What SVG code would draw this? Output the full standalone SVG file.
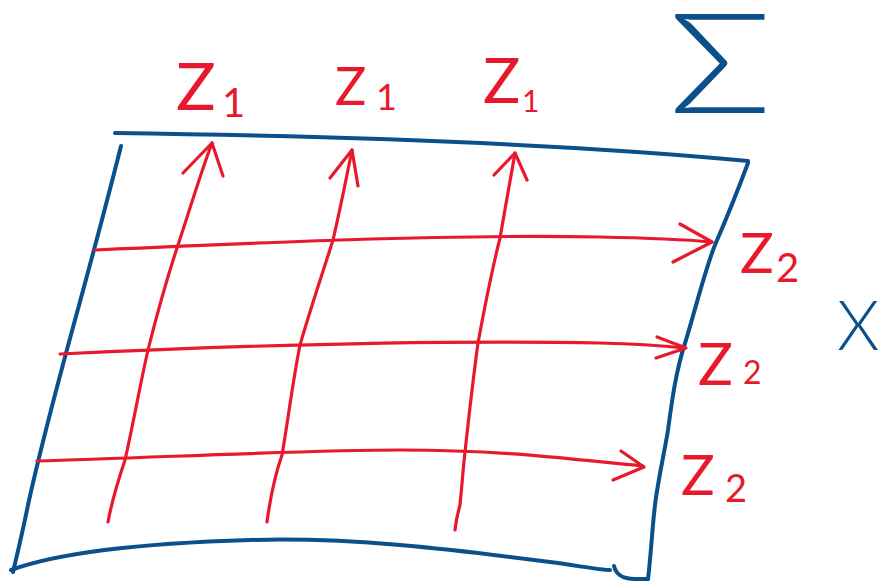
<svg xmlns="http://www.w3.org/2000/svg" width="882" height="583" viewBox="0 0 882 583">
  <style>
    .blue-line { fill: none; stroke: #0b4f8b; stroke-width: 4; stroke-linecap: round; stroke-linejoin: round; }
    .red-line { fill: none; stroke: #e8192c; stroke-width: 3.2; stroke-linecap: round; stroke-linejoin: round; }
    .lbl { font-family: "Lato", "Liberation Sans", sans-serif; }
    .red { fill: #e8192c; }
    .blue { fill: #0b4f8b; }
  </style>
  <rect width="882" height="583" fill="#ffffff"/>

  <!-- Surface outline -->
  <g id="surface">
    <path class="blue-line" d="M115,133 C 330,136 560,143 748,161"/>
    <path class="blue-line" d="M121,146 C 105,210 90,265 75,320 C 60,375 40,450 28,505 C 22,535 17,555 13,572"/>
    <path class="blue-line" d="M11,570 C 60,552 150,543 250,540 C 350,537 450,549 550,562 C 580,566 600,570 610,570"/>
    <path class="blue-line" d="M614,566 C 616,574 621,579 635,579 L 648,579"/>
    <path class="blue-line" d="M748,163 C 738,190 728,215 715,245 C 705,270 698,300 686,340 C 676,370 672,400 668,430 C 664,455 658,480 655,505 C 652,530 651,555 648,579"/>
  </g>

  <!-- Connectors -->
  <g id="connectors">
    <g id="arrow-v1">
      <path class="red-line" d="M108,522 C 112,500 120,475 125,460 C 133,425 140,385 148,350 C 158,310 168,275 178,245 C 188,215 200,175 212,143"/>
      <path class="red-line" d="M183,173 L212,143 L223,176"/>
    </g>
    <g id="arrow-v2">
      <path class="red-line" d="M267,522 C 270,500 275,475 282,455 C 288,420 293,380 300,345 C 310,310 322,275 333,240 C 340,210 346,180 352,150"/>
      <path class="red-line" d="M330,178 L352,150 L358,186"/>
    </g>
    <g id="arrow-v3">
      <path class="red-line" d="M455,530 C 456,520 458,512 460,505 C 462,485 463,470 465,452 C 469,415 473,380 478,343 C 485,305 492,270 500,238 C 505,210 510,180 515,153"/>
      <path class="red-line" d="M494,175 L515,153 L527,180"/>
    </g>
    <g id="arrow-h1">
      <path class="red-line" d="M95,250 C 250,243 450,234 600,237 C 650,238 690,240 712,242"/>
      <path class="red-line" d="M680,224 L712,242 L673,262"/>
    </g>
    <g id="arrow-h2">
      <path class="red-line" d="M60,354 C 250,345 450,340 600,343 C 640,344 665,346 685,348"/>
      <path class="red-line" d="M657,337 L686,348 L656,358"/>
    </g>
    <g id="arrow-h3">
      <path class="red-line" d="M37,461 C 150,458 300,450 400,450 C 500,450 560,458 643,466"/>
      <path class="red-line" d="M621,451 L644,467 L613,480"/>
    </g>
  </g>

  <!-- Labels -->
  <g id="label-sigma">
    <text class="lbl blue" transform="translate(669,113) scale(1.22,1)" x="0" y="0" font-size="140" font-weight="300">Σ</text>
  </g>
  <g id="label-x">
    <text class="lbl blue" x="837" y="350" font-size="68" font-weight="300">X</text>
  </g>
  <g id="label-z1-a">
    <text class="lbl red" x="176" y="110" font-size="66">Z<tspan x="222" y="117" font-size="40">1</tspan></text>
  </g>
  <g id="label-z1-b">
    <text class="lbl red" x="335" y="105" font-size="52">Z<tspan x="376" y="110" font-size="36">1</tspan></text>
  </g>
  <g id="label-z1-c">
    <text class="lbl red" x="483" y="103" font-size="62">Z<tspan x="522" y="112" font-size="30">1</tspan></text>
  </g>
  <g id="label-z2-a">
    <text class="lbl red" x="740" y="273" font-size="56">Z<tspan x="776" y="282" font-size="40">2</tspan></text>
  </g>
  <g id="label-z2-b">
    <text class="lbl red" x="698" y="385" font-size="58">Z<tspan x="743" y="384" font-size="32">2</tspan></text>
  </g>
  <g id="label-z2-c">
    <text class="lbl red" x="681" y="495" font-size="56">Z<tspan x="725" y="502" font-size="38">2</tspan></text>
  </g>
</svg>
